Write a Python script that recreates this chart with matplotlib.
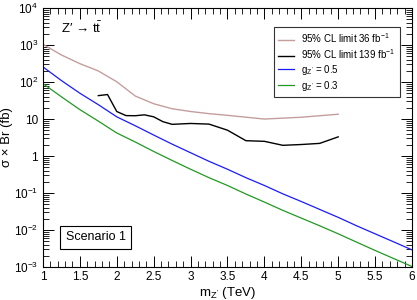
import numpy as np
import matplotlib
matplotlib.use('Agg')
import matplotlib.pyplot as plt
from matplotlib.ticker import FixedLocator, MultipleLocator, FuncFormatter, LogLocator

plt.rcParams['font.family'] = ['Liberation Sans', 'DejaVu Sans']
plt.rcParams['mathtext.fontset'] = 'custom'
plt.rcParams['mathtext.rm'] = 'Liberation Sans'
plt.rcParams['mathtext.it'] = 'Liberation Sans'
plt.rcParams['mathtext.bf'] = 'Liberation Sans:bold'

# limite 95% CL, 36 fb-1
m36 = [1.0, 1.25, 1.5, 1.75, 2.0, 2.25, 2.5, 2.75, 3.0, 3.25, 3.5, 4.0, 4.5, 5.0]
lim36 = [1050, 540, 315, 200, 102, 42, 26, 19, 16, 14, 12.6, 10.0, 11.2, 13.5]

# limite 95% CL, 139 fb-1
m139 = [1.75, 1.875, 2.0, 2.125, 2.25, 2.375, 2.5, 2.625, 2.75, 3.0, 3.25, 3.5,
        3.75, 4.0, 4.25, 4.5, 4.75, 5.0]
lim139 = [43, 46, 16, 12.4, 12.3, 13, 11.5, 8.5, 7.2, 7.6, 7.3, 5.0,
          2.6, 2.5, 1.95, 2.05, 2.2, 3.3]

# secao de choque x Br para g_Z' = 0.5 e 0.3
mz = [1.0, 1.25, 1.5, 1.75, 2.0, 2.25, 2.5, 2.75, 3.0, 3.25, 3.5, 3.75, 4.0,
      4.25, 4.5, 4.75, 5.0, 5.25, 5.5, 5.75, 6.0]
xs05 = [257, 110, 50, 24.5, 11.5, 6.6, 3.7, 2.1, 1.23, 0.72, 0.44, 0.26, 0.16,
        0.095, 0.059, 0.036, 0.022, 0.013, 0.0079, 0.0048, 0.0029]
xs03 = [91, 40, 18, 8.8, 4.2, 2.4, 1.33, 0.76, 0.44, 0.26, 0.16, 0.094, 0.057,
        0.034, 0.021, 0.013, 0.0079, 0.0047, 0.0028, 0.0017, 0.00103]

fig = plt.figure(figsize=(4.17, 3.0), dpi=100)
ax = fig.add_axes([0.103, 0.11, 0.885, 0.863])

ax.plot(m36, lim36, color='#c49e9e', lw=1.0, label='95% CL limit 36 fb$^{-1}$')
ax.plot(m139, lim139, color='black', lw=1.0, label='95% CL limit 139 fb$^{-1}$')
ax.plot(mz, xs05, color='#1a1aff', lw=0.9, label="g$_{Z'}$ = 0.5")
ax.plot(mz, xs03, color='#229922', lw=0.9, label="g$_{Z'}$ = 0.3")

ax.set_yscale('log')
ax.set_xlim(1, 6)
ax.set_ylim(1e-3, 1e4)

ax.xaxis.set_major_locator(MultipleLocator(0.5))
ax.xaxis.set_minor_locator(MultipleLocator(0.1))
ax.xaxis.set_major_formatter(FuncFormatter(lambda v, p: '%g' % v))
ax.yaxis.set_major_locator(FixedLocator([1e-3, 1e-2, 1e-1, 1, 10, 1e2, 1e3, 1e4]))
ax.yaxis.set_minor_locator(LogLocator(base=10, subs=np.arange(2, 10), numticks=20))


def yfmt(v, p):
    e = int(round(np.log10(v)))
    if e == 0:
        return '1'
    if e == 1:
        return '10'
    return '$10^{%d}$' % e


ax.yaxis.set_major_formatter(FuncFormatter(yfmt))
ax.tick_params(which='both', direction='in', top=True, right=True, labelsize=8.5)
ax.tick_params(which='major', length=8, width=0.7)
ax.tick_params(which='minor', length=4, width=0.6)
ax.tick_params(axis='x', pad=3)
for s in ax.spines.values():
    s.set_linewidth(0.8)

ax.set_xlabel("m$_{Z'}$ (TeV)", fontsize=9.5, labelpad=1)
ax.set_ylabel('σ × Br (fb)', fontsize=9.5)
ax.yaxis.set_label_coords(-0.08, 0.5)

ax.text(0.05, 0.905, "Z′ → t$\\bar{\\rm t}$", transform=ax.transAxes, fontsize=9.5)

ax.text(0.062, 0.115, 'Scenario 1', transform=ax.transAxes, fontsize=9, ha='left', va='center',
        bbox=dict(boxstyle='square,pad=0.45', facecolor='white', edgecolor='black', lw=0.8))

leg = ax.legend(loc='upper right', bbox_to_anchor=(0.967, 0.927), fontsize=7, frameon=True,
                fancybox=False, edgecolor='black', handlelength=1.6, handletextpad=0.8,
                borderpad=0.45, labelspacing=0.2, borderaxespad=0)
leg.get_frame().set_linewidth(0.8)

plt.savefig('out.png', dpi=100)
